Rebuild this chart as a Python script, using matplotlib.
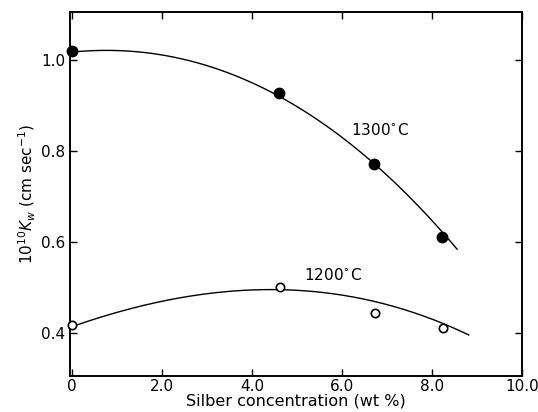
import numpy as np
from matplotlib import pyplot as plt

# measured points, 1300 C (filled) and 1200 C (open)
conc_1300 = np.array([0.0, 4.6, 6.71, 8.22])
kw_1300 = np.array([1.02, 0.927, 0.771, 0.611])
conc_1200 = np.array([0.0, 4.62, 6.73, 8.24])
kw_1200 = np.array([0.417, 0.501, 0.444, 0.411])

# hand-drawn guide curves
curve_x_1300 = np.array([0.0, 1.22, 2.69, 4.18, 4.6, 5.58, 6.71, 7.51, 8.22, 8.56])
curve_y_1300 = np.array([1.02, 1.015, 0.989, 0.949, 0.929, 0.853, 0.772, 0.692, 0.620, 0.590])
curve_x_1200 = np.array([0.0, 1.22, 2.69, 4.18, 4.62, 6.73, 8.24, 8.82])
curve_y_1200 = np.array([0.417, 0.446, 0.479, 0.499, 0.501, 0.462, 0.420, 0.398])

xticks = [0, 2, 4, 6, 8, 10]
xticklabels = ["0", "2.0", "4.0", "6.0", "8.0", "10.0"]
yticks = [0.4, 0.6, 0.8, 1.0]
yticklabels = ["0.4", "0.6", "0.8", "1.0"]

plt.rcParams['font.family'] = ['DejaVu Sans']

fig = plt.figure(figsize=(5.38, 4.12), dpi=100)
ax = fig.add_axes([0.130, 0.087, 0.840, 0.884])

# smoothed curves (least-squares cubic through the guide points)
for cx, cy in [(curve_x_1300, curve_y_1300), (curve_x_1200, curve_y_1200)]:
    p = np.polyfit(cx, cy, 3)
    xs = np.linspace(cx[0], cx[-1], 200)
    ax.plot(xs, np.polyval(p, xs), color='black', lw=1.0)

ax.plot(conc_1300, kw_1300, 'o', color='black', ms=7.5, clip_on=False, zorder=3)
ax.plot(conc_1200, kw_1200, 'o', mfc='white', mec='black', mew=1.2, ms=6,
        clip_on=False, zorder=3)

ax.text(6.85, 0.845, "1300$^{\\circ}$C", fontsize=11, ha='center', va='center')
ax.text(5.8, 0.528, "1200$^{\\circ}$C", fontsize=11, ha='center', va='center')

ax.set_xlim(-0.05, 10)
ax.set_ylim(0.305, 1.105)
ax.set_xticks(xticks)
ax.set_xticklabels(xticklabels)
ax.set_yticks(yticks)
ax.set_yticklabels(yticklabels)
ax.tick_params(direction='in', top=True, right=True, labelsize=11, length=5, width=1)
ax.tick_params(axis='x', pad=2)
ax.set_xlabel("Silber concentration (wt %)", fontsize=11.5, labelpad=0)
ax.set_ylabel("$10^{10}K_w$ (cm sec$^{-1}$)", fontsize=11, labelpad=2)
for s in ax.spines.values():
    s.set_linewidth(1.4)

fig.savefig("out.png", dpi=100)
